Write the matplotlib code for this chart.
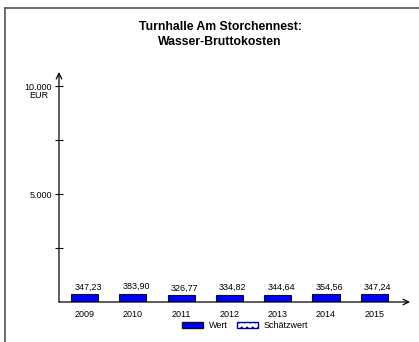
import matplotlib
matplotlib.use("Agg")
import matplotlib.pyplot as plt
from matplotlib.lines import Line2D
from matplotlib.patches import Patch

plt.rcParams['font.family'] = ['Liberation Sans', 'DejaVu Sans']

years = ["2009", "2010", "2011", "2012", "2013", "2014", "2015"]
values = [347.23, 383.90, 326.77, 334.82, 344.64, 354.56, 347.24]
title = "Turnhalle Am Storchennest:\nWasser-Bruttokosten"
yticks = [2500, 5000, 7500, 10000]
ytick_labels = ["", "5.000", "", "10.000"]
unit = "EUR"

W, H = 419, 342
fig = plt.figure(figsize=(W / 100, H / 100), dpi=100)

# frame lines
fig.add_artist(Line2D([5 / W, 5 / W], [0, 1 - 8 / H], color="#555555", lw=1.2))
fig.add_artist(Line2D([5 / W, 1], [1 - 8 / H, 1 - 8 / H], color="#555555", lw=1.2))

ax_l, ax_r, ax_b, ax_t = 59, 410, 302, 72
ax = fig.add_axes([ax_l / W, 1 - ax_b / H, (ax_r - ax_l) / W, (ax_b - ax_t) / H])

x = list(range(len(years)))
ax.bar(x, values, width=0.56, color="#0000ff", edgecolor="#111111", linewidth=0.8)

ax.set_xlim(-0.53, 6.74)
ax.set_ylim(0, (ax_b - ax_t) / 108 * 5000)

for xi, v in zip(x, values):
    ax.text(xi + 0.07, v + 120, f"{v:.2f}".replace(".", ","), ha="center", va="bottom", fontsize=6.5)

for s in ax.spines.values():
    s.set_visible(False)

ax.annotate("", xy=(0, 1.0), xytext=(0, 0), xycoords="axes fraction",
            arrowprops=dict(arrowstyle="->", lw=0.9, color="black", shrinkA=0, shrinkB=0))
ax.annotate("", xy=(1.0, 0), xytext=(0, 0), xycoords="axes fraction",
            arrowprops=dict(arrowstyle="->", lw=0.9, color="black", shrinkA=0, shrinkB=0))

ax.set_yticks(yticks)
ax.set_yticklabels(ytick_labels, fontsize=6.5)
ax.tick_params(axis="y", direction="inout", length=6, width=0.8, pad=2)
ax.set_xticks(x)
ax.set_xticklabels(years, fontsize=6.5)
ax.tick_params(axis="x", length=0, pad=6)

fig.text(39 / W, 1 - 96 / H, unit, ha="center", va="center", fontsize=6.5)

fig.text(220 / W, 1 - 34.5 / H, title, ha="center", va="center", fontsize=8.8,
         fontweight="bold", linespacing=1.25)

handles = [Patch(facecolor="#0000ff", edgecolor="#111111", label="Wert"),
           Patch(facecolor="white", edgecolor="#0000aa", hatch="...", label="Schätzwert")]
fig.legend(handles=handles, loc="center", bbox_to_anchor=(245 / W, 1 - 326 / H), ncol=2,
           frameon=False, fontsize=6.5, handlelength=2.4, handleheight=0.6,
           columnspacing=1.0, handletextpad=0.6)

fig.savefig("out.png", dpi=100)
